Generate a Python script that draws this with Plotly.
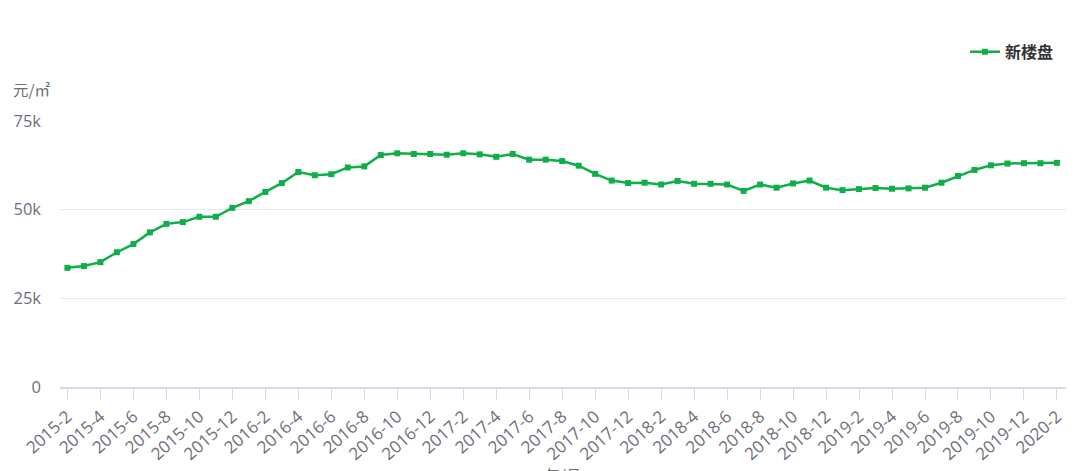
import plotly.graph_objects as go

months = [f"{y}-{m}" for y in range(2015, 2021) for m in range(1, 13)]
months = months[months.index("2015-2"):months.index("2020-2") + 1]

prices = [
    33.6, 34.1, 35.2, 38.0, 40.3, 43.6, 46.0, 46.5, 48.0, 48.0,
    50.5, 52.4, 55.0, 57.5, 60.6, 59.7, 60.0, 61.9, 62.2, 65.4,
    65.9, 65.7, 65.7, 65.5, 65.9, 65.6, 64.9, 65.7, 64.1, 64.1,
    63.7, 62.4, 60.1, 58.2, 57.5, 57.6, 57.1, 58.1, 57.3, 57.3,
    57.1, 55.3, 57.1, 56.2, 57.4, 58.2, 56.2, 55.5, 55.8, 56.1,
    55.9, 56.0, 56.2, 57.6, 59.5, 61.2, 62.5, 63.0, 63.1, 63.1,
    63.2,
]
prices = [p * 1000 for p in prices]

tick_labels = months[::2]
y_ticks = [0, 25000, 50000, 75000]
y_tick_text = ["0", "25k", "50k", "75k"]

GREEN = "#0fae4a"
FONT = "Noto Sans CJK SC, Noto Sans, sans-serif"
TICKFONT = "Open Sans, Noto Sans, sans-serif"
GREY = "#6e7079"

fig = go.Figure()
fig.add_trace(go.Scatter(
    x=months, y=prices, name="新楼盘", mode="lines+markers",
    line=dict(color=GREEN, width=2.5),
    marker=dict(symbol="square", size=6, color=GREEN),
))

fig.update_layout(
    width=1080, height=471,
    margin=dict(l=60, r=14, t=121, b=84, autoexpand=False),
    paper_bgcolor="white", plot_bgcolor="white",
    font=dict(family=FONT, color=GREY, size=14),
    showlegend=True,
    legend=dict(
        x=0.993, xanchor="right", y=1.26, yanchor="middle",
        font=dict(size=16, color="#333333", family=FONT, weight="bold"),
        itemwidth=30, bgcolor="rgba(0,0,0,0)",
    ),
    xaxis=dict(
        type="category", categoryorder="array", categoryarray=months,
        range=[-0.45, 60.55], automargin=False,
        tickmode="array", tickvals=tick_labels, ticktext=tick_labels,
        tickangle=-42, tickfont=dict(size=17, color=GREY, family=TICKFONT),
        showgrid=False, zeroline=False,
        showline=True, linecolor="#d5dbe8", linewidth=2,
        ticks="outside", ticklen=11, tickcolor="#d5dbe8", tickwidth=1,
    ),
    yaxis=dict(
        range=[0, 75000], automargin=False,
        tickmode="array", tickvals=y_ticks, ticktext=y_tick_text,
        tickfont=dict(size=16.5, color=GREY, family=TICKFONT),
        showgrid=True, gridcolor="#e8e8e8", gridwidth=1,
        zeroline=False, showline=False,
        ticks="", ticklabelstandoff=18,
    ),
    annotations=[
        dict(text="元/㎡", xref="paper", yref="paper",
             x=-0.049, y=1.12, xanchor="left", yanchor="middle",
             showarrow=False, font=dict(size=15.5, color=GREY)),
        dict(text="年/月", xref="paper", yref="paper",
             x=0.48, y=-0.283, xanchor="left", yanchor="top",
             showarrow=False, font=dict(size=15, color=GREY)),
    ],
)

fig.write_html("out.html")
